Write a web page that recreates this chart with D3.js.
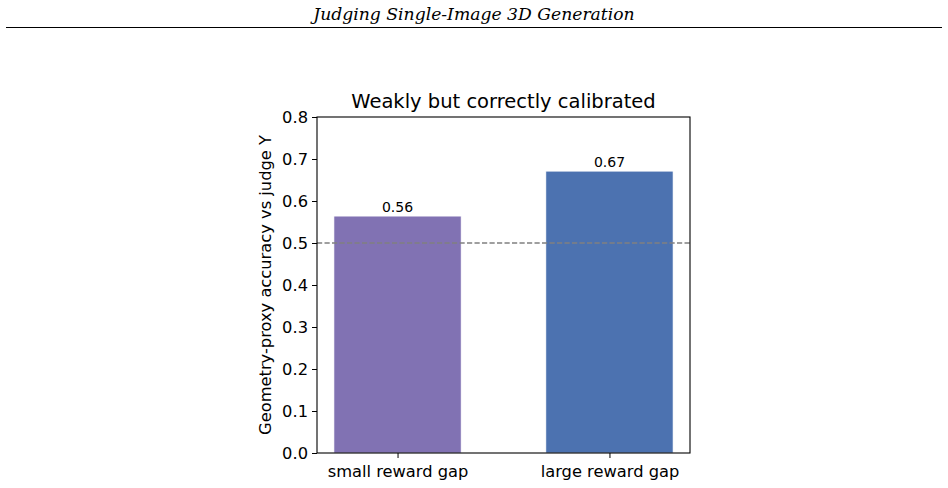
<!DOCTYPE html>
<html>
<head>
<meta charset="utf-8">
<script src="https://cdn.jsdelivr.net/npm/d3@7"></script>
<style>
  body { margin: 0; background: #fff; }
  text { font-family: "DejaVu Sans", sans-serif; fill: #000; }
</style>
</head>
<body>
<div class="chart"></div>
<script>
// values
var categories = ['small reward gap', 'large reward gap']
var accuracy = [0.564, 0.671]
var barLabels = ['0.56', '0.67']
var barColors = ['#8172b3', '#4c72b0']
var yTicks = [0, 0.1, 0.2, 0.3, 0.4, 0.5, 0.6, 0.7, 0.8]
var chanceLevel = 0.5

var W = 948, H = 488
var plot = { left: 317, right: 690, top: 117, bottom: 453 }

var svg = d3.select('.chart')
  .append('svg')
    .attr('width', W)
    .attr('height', H)

// page header like a paper running head
svg.append('text')
  .attr('x', W / 2)
  .attr('y', 20)
  .attr('text-anchor', 'middle')
  .style('font-family', '"DejaVu Serif", "Liberation Serif", serif')
  .style('font-style', 'italic')
  .style('font-size', '17.2px')
  .text('Judging Single-Image 3D Generation')

svg.append('line')
  .attr('x1', 6).attr('x2', 942)
  .attr('y1', 27.5).attr('y2', 27.5)
  .attr('stroke', '#000')
  .attr('stroke-width', 1.2)

// matplotlib bar positions: 0, 1 with width 0.6 and 5% margins
var xScale = d3.scaleLinear()
  .domain([-0.38, 1.38])
  .range([plot.left, plot.right])

var yScale = d3.scaleLinear()
  .domain([0, 0.8])
  .range([plot.bottom, plot.top])

var barWidth = 0.6

svg.selectAll('rect.bar')
  .data(accuracy)
  .enter()
  .append('rect')
    .attr('class', 'bar')
    .attr('x', (d, i) => xScale(i - barWidth / 2))
    .attr('width', (d, i) => xScale(i + barWidth / 2) - xScale(i - barWidth / 2))
    .attr('y', d => yScale(d))
    .attr('height', d => yScale(0) - yScale(d))
    .attr('fill', (d, i) => barColors[i])
    .attr('stroke', '#fff')
    .attr('stroke-width', 0.6)

svg.selectAll('text.bar-label')
  .data(accuracy)
  .enter()
  .append('text')
    .attr('class', 'bar-label')
    .attr('x', (d, i) => xScale(i))
    .attr('y', d => yScale(d) - 4)
    .attr('text-anchor', 'middle')
    .style('font-size', '14px')
    .text((d, i) => barLabels[i])

// chance line
svg.append('line')
  .attr('x1', plot.left).attr('x2', plot.right)
  .attr('y1', yScale(chanceLevel)).attr('y2', yScale(chanceLevel))
  .attr('stroke', '#808080')
  .attr('stroke-width', 1.4)
  .attr('stroke-dasharray', '5.2,2.3')

// axes
var yAxis = d3.axisLeft(yScale)
  .tickValues(yTicks)
  .tickFormat(d3.format('.1f'))
  .tickSizeInner(5)
  .tickSizeOuter(0)
  .tickPadding(4)

svg.append('g')
    .attr('transform', `translate(${plot.left}, 0)`)
  .call(yAxis)
  .call(g => g.select('.domain').remove())
  .call(g => g.selectAll('text').style('font-size', '16.3px').style('font-family', '"DejaVu Sans", sans-serif'))

var xAxis = d3.axisBottom(xScale)
  .tickValues([0, 1])
  .tickFormat((d, i) => categories[i])
  .tickSizeInner(5)
  .tickSizeOuter(0)
  .tickPadding(7)

svg.append('g')
    .attr('transform', `translate(0, ${plot.bottom})`)
  .call(xAxis)
  .call(g => g.select('.domain').remove())
  .call(g => g.selectAll('text').style('font-size', '16.3px').style('font-family', '"DejaVu Sans", sans-serif'))

svg.selectAll('.tick line').attr('stroke', '#000').attr('stroke-width', 1)

// frame
svg.append('rect')
  .attr('x', plot.left)
  .attr('y', plot.top)
  .attr('width', plot.right - plot.left)
  .attr('height', plot.bottom - plot.top)
  .attr('fill', 'none')
  .attr('stroke', '#000')
  .attr('stroke-width', 1.1)

svg.append('text')
  .attr('x', (plot.left + plot.right) / 2)
  .attr('y', 108)
  .attr('text-anchor', 'middle')
  .style('font-size', '19.5px')
  .text('Weakly but correctly calibrated')

svg.append('text')
  .attr('transform', `translate(271, ${(plot.top + plot.bottom) / 2}) rotate(-90)`)
  .attr('text-anchor', 'middle')
  .style('font-size', '16.3px')
  .text('Geometry-proxy accuracy vs judge Y')
</script>
</body>
</html>
